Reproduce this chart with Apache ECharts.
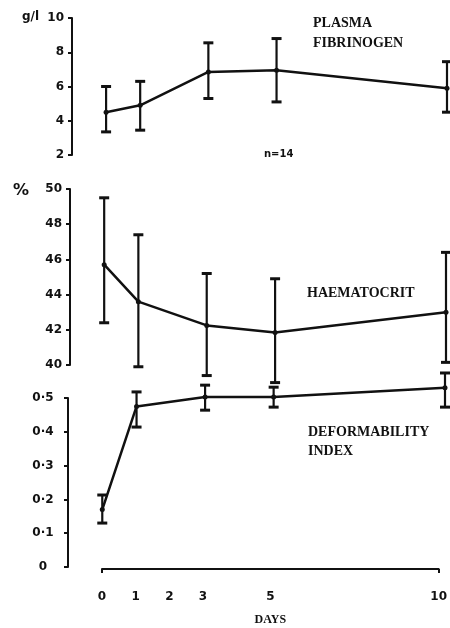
<!DOCTYPE html>
<html>
<head>
<meta charset="utf-8">
<style>html,body{margin:0;padding:0;background:#fff;}#c{width:450px;height:628px;}</style>
<script src="https://cdn.jsdelivr.net/npm/echarts@6/dist/echarts.min.js"></script>
</head>
<body>
<div id="c"></div>
<script>
const days = [0, 1, 3, 5, 10];
const dayLabels = [0, 1, 2, 3, 5, 10];

const fibMean = [4.5, 4.9, 6.85, 6.95, 5.9];
const fibHigh = [6.0, 6.3, 8.55, 8.8, 7.45];
const fibLow  = [3.35, 3.45, 5.3, 5.1, 4.5];

const hctMean = [45.7, 43.6, 42.25, 41.85, 43.0];
const hctHigh = [49.5, 47.4, 45.2, 44.9, 46.4];
const hctLow  = [42.4, 39.9, 39.4, 39.0, 40.15];

const defMean = [0.17, 0.475, 0.503, 0.503, 0.53];
const defHigh = [0.213, 0.518, 0.538, 0.532, 0.574];
const defLow  = [0.13, 0.414, 0.464, 0.473, 0.473];

const fibTicks = {min: 2, max: 10, interval: 2};
const hctTicks = {min: 40, max: 50, interval: 2};
const defTicks = {min: 0, max: 0.5, interval: 0.1};

const INK = '#111';
const numFont = 'DejaVu Sans';
const txtFont = 'Liberation Serif';

function pts(mean){ return days.map((d,i)=>[d, mean[i]]); }
function bars(lo, hi){ return days.map((d,i)=>[d, lo[i], hi[i]]); }

function errRender(params, api){
  const x = api.value(0);
  const p1 = api.coord([x, api.value(1)]);
  const p2 = api.coord([x, api.value(2)]);
  const hw = 5;
  const st = {stroke: INK, lineWidth: 2.2};
  return {type:'group', children:[
    {type:'line', shape:{x1:p1[0], y1:p1[1], x2:p2[0], y2:p2[1]}, style:st},
    {type:'line', shape:{x1:p1[0]-hw, y1:p1[1], x2:p1[0]+hw, y2:p1[1]}, style:{stroke: INK, lineWidth: 3}},
    {type:'line', shape:{x1:p2[0]-hw, y1:p2[1], x2:p2[0]+hw, y2:p2[1]}, style:{stroke: INK, lineWidth: 3}}
  ]};
}

function yAx(idx, t, fmt, labelOpts){
  return {
    type:'value', gridIndex: idx, min: t.min, max: t.max, interval: t.interval,
    axisLine:{show:true, onZero:false, lineStyle:{color: INK, width: 2}},
    axisTick:{show:true, length: 4, lineStyle:{color: INK, width: 2}},
    splitLine:{show:false},
    axisLabel: Object.assign({color: INK, fontFamily: numFont, fontWeight:'bold', fontSize: 12, margin: 8, formatter: fmt}, labelOpts || {})
  };
}
function xHidden(idx){
  return {type:'value', gridIndex: idx, min: -1, max: 10, show: false};
}

function lineSeries(x, mean){
  return {type:'line', xAxisIndex:x, yAxisIndex:x, data: pts(mean), clip:false,
    symbol:'circle', symbolSize: 5, itemStyle:{color: INK},
    lineStyle:{color: INK, width: 2.5}, z: 3};
}
function errSeries(x, lo, hi){
  return {type:'custom', xAxisIndex:x, yAxisIndex:x, data: bars(lo, hi), clip:false,
    renderItem: errRender, z: 2};
}

const chart = echarts.init(document.getElementById('c'), null, {renderer:'canvas'});
chart.setOption({
  backgroundColor:'#fff',
  animation:false,
  grid:[
    {left:72, top:18, width:375, height:137},
    {left:70, top:189, width:376, height:176},
    {left:68, top:398, width:377, height:169},
    {left:102, top:560, width:341, height:9}
  ],
  xAxis:[
    xHidden(0), xHidden(1), xHidden(2),
    {type:'value', gridIndex:3, min:0, max:10,
      axisLine:{show:true, onZero:false, lineStyle:{color: INK, width: 2}},
      axisTick:{show:true, customValues:[0,10], length:4, lineStyle:{color: INK, width: 2}},
      splitLine:{show:false},
      axisLabel:{customValues: dayLabels, color: INK, fontFamily: numFont, fontWeight:'bold', fontSize: 12, margin: 22},
      name:'DAYS', nameLocation:'middle', nameGap: 45,
      nameTextStyle:{color: INK, fontFamily: txtFont, fontSize: 12, fontWeight:'bold'}
    }
  ],
  yAxis:[
    yAx(0, fibTicks, v=>String(v)),
    yAx(1, hctTicks, v=>String(v)),
    yAx(2, defTicks, v=> v===0 ? '0' : v.toFixed(1).replace('.', '·'), {align:'center', margin: 25}),
    {type:'value', gridIndex:3, show:false}
  ],
  graphic:[
    {type:'text', left:22, top:11, style:{text:'g/l', fill: INK, font:'bold 12px "DejaVu Sans"'}},
    {type:'text', left:13, top:183, style:{text:'%', fill: INK, font:'bold 16px "DejaVu Sans"'}},
    {type:'text', left:313, top:13, style:{text:'PLASMA\nFIBRINOGEN', fill: INK, font:'bold 14px "Liberation Serif"', lineHeight: 20}},
    {type:'text', left:264, top:149, style:{text:'n=14', fill: INK, font:'bold 10px "DejaVu Sans"'}},
    {type:'text', left:307, top:286, style:{text:'HAEMATOCRIT', fill: INK, font:'bold 14px "Liberation Serif"'}},
    {type:'text', left:308, top:423, style:{text:'DEFORMABILITY\nINDEX', fill: INK, font:'bold 14px "Liberation Serif"', lineHeight: 19}}
  ],
  series:[
    errSeries(0, fibLow, fibHigh), lineSeries(0, fibMean),
    errSeries(1, hctLow, hctHigh), lineSeries(1, hctMean),
    errSeries(2, defLow, defHigh), lineSeries(2, defMean)
  ]
});
</script>
</body>
</html>
